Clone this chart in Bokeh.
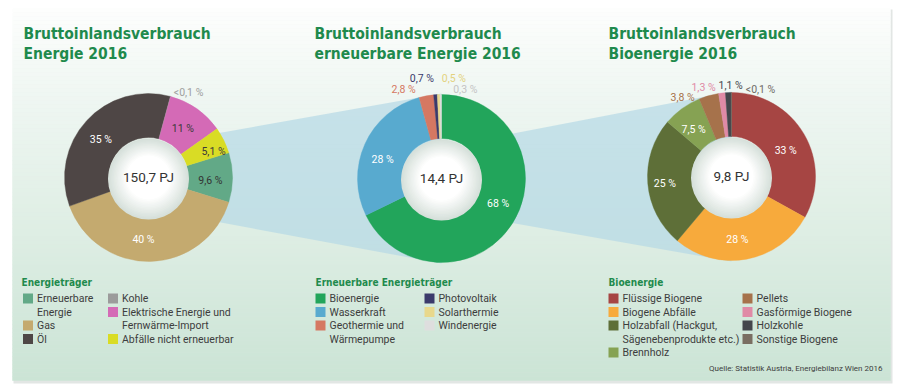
import numpy as np
from bokeh.plotting import figure
from bokeh.models import Range1d, ColumnDataSource
from bokeh.core.properties import value
from bokeh.embed import file_html
from bokeh.resources import INLINE

# ---------------- data ----------------
chart_titles = ["Bruttoinlandsverbrauch\nEnergie 2016",
                "Bruttoinlandsverbrauch\nerneuerbare Energie 2016",
                "Bruttoinlandsverbrauch\nBioenergie 2016"]
totals = ["150,7 PJ", "14,4 PJ", "9,8 PJ"]
legend_titles = ["Energieträger", "Erneuerbare Energieträger", "Bioenergie"]

energy_labels = ["Erneuerbare\nEnergie", "Gas", "Öl", "Kohle",
                 "Elektrische Energie und\nFernwärme-Import", "Abfälle nicht erneuerbar"]
energy_shares = [9.6, 40, 35, 0.05, 11, 5.1]
energy_share_text = ["9,6 %", "40 %", "35 %", "<0,1 %", "11 %", "5,1 %"]

renew_labels = ["Bioenergie", "Wasserkraft", "Geothermie und\nWärmepumpe",
                "Photovoltaik", "Solarthermie", "Windenergie"]
renew_shares = [68, 28, 2.8, 0.7, 0.5, 0.3]
renew_share_text = ["68 %", "28 %", "2,8 %", "0,7 %", "0,5 %", "0,3 %"]

bio_labels = ["Flüssige Biogene", "Biogene Abfälle",
              "Holzabfall (Hackgut,\nSägenebenprodukte etc.)", "Brennholz",
              "Pellets", "Gasförmige Biogene", "Holzkohle", "Sonstige Biogene"]
bio_shares = [33, 28, 25, 7.5, 3.8, 1.3, 1.1, 0.05]
bio_share_text = ["33 %", "28 %", "25 %", "7,5 %", "3,8 %", "1,3 %", "1,1 %", "<0,1 %"]

source_note = "Quelle: Statistik Austria, Energiebilanz Wien 2016"

# ---------------- style ----------------
FONT = "Roboto"
COND_FONT = "DejaVu Sans Condensed"
GREEN_TXT = "#1f8a4d"
DARK_TXT = "#3d3d3d"

energy_colors = ["#62a987", "#c4aa6f", "#4e4645", "#9b9b9b", "#d46ab6", "#d9dc25"]
energy_lab_colors = ["#333333", "#ffffff", "#ffffff", "#a0a0a0", "#3a3a3a", "#3a3a3a"]
energy_lab_r = [62, 62, 61, 94, 60, 70]
energy_lab_da = [-3, -6, 4, -10, 0, -4.5]

renew_colors = ["#22a55b", "#58aacf", "#d57862", "#3b3a6b", "#e8d88c", "#dedede"]
renew_lab_colors = ["#ffffff", "#ffffff", "#d57862", "#3b3a6b", "#e3d27e", "#c4c4c4"]
renew_lab_r = [62, 62, 97, 102, 101, 92]
renew_lab_da = [8, 6, 12.6, 7, -9, -15.5]

bio_colors = ["#a64543", "#f7aa3c", "#5e6f38", "#86a253", "#a6724b", "#e08aa6", "#44464c", "#7a6e62"]
bio_lab_colors = ["#ffffff", "#ffffff", "#ffffff", "#ffffff", "#a6724b", "#e08aa6", "#44464c", "#6f6a66"]
bio_lab_r = [60, 63, 67, 60, 93, 93, 91, 92]
bio_lab_da = [-5, -5, 1, 3, 16, 11, -1.6, -18.5]

R_OUT, R_IN = 84, 40
W, H = 900, 392


def Y(ry):
    return H - np.asarray(ry, float)


p = figure(width=W, height=H, x_range=Range1d(0, W), y_range=Range1d(0, H),
           output_backend="svg", toolbar_location=None, min_border=0)
p.axis.visible = False
p.grid.visible = False
p.outline_line_color = None
p.background_fill_color = "#ffffff"
p.border_fill_color = "#ffffff"

# ---------------- panel background ----------------
PL, PR, PT, PB = 12, 890, 8, 380
p.quad(left=[PL + 1], right=[PR + 2], top=[Y(PT + 1)], bottom=[Y(PB + 3)],
       fill_color="#cfd6d2", fill_alpha=0.6, line_color=None)
stops_y = [PT, 90, 200, 300, PB]
stops_c = [(253, 254, 253), (240, 247, 243), (226, 240, 231), (213, 233, 221), (203, 228, 213)]
n = 93
edges = np.linspace(PT, PB, n + 1)
cols = []
for i in range(n):
    yy = (edges[i] + edges[i + 1]) / 2
    rgb = [int(round(np.interp(yy, stops_y, [c[k] for c in stops_c]))) for k in range(3)]
    cols.append("#%02x%02x%02x" % tuple(rgb))
p.quad(left=PL, right=PR, top=Y(edges[:-1]), bottom=Y(edges[1:]), fill_color=cols,
       line_color=cols, line_width=0.5)

# ---------------- donuts ----------------
centers = [(148, float(Y(177))), (441, float(Y(178))), (731, float(Y(176)))]

# connecting bands
for (cxa, cya), (cxb, cyb) in [(centers[0], centers[1]), (centers[1], centers[2])]:
    p.patch(x=[cxa + 51, cxb, cxb, cxa + 51], y=[cya + 41, cyb + 85, cyb - 85, cya - 41],
            fill_color="#b5d8e6", fill_alpha=0.7, line_color=None)


def add_text(xs, ys, texts, colors, size, bold=False, align="center", baseline="middle", font=FONT):
    src = ColumnDataSource(dict(x=list(xs), y=list(ys), t=list(texts), c=list(colors)))
    p.text(x="x", y="y", text="t", text_color="c", source=src, text_font=value(font),
           text_font_size=size, text_font_style="bold" if bold else "normal",
           text_align=align, text_baseline=baseline)


def donut(center, shares, colors, start_deg, pct_text, lab_colors, lab_r, lab_da, total):
    cx, cy = center
    s = np.array(shares, float)
    cum = np.concatenate([[0], np.cumsum(s / s.sum())])
    a0 = np.radians(start_deg - cum[:-1] * 360)
    a1 = np.radians(start_deg - cum[1:] * 360)
    src = ColumnDataSource(dict(start=a1, end=a0, color=colors))
    p.annular_wedge(x=cx, y=cy, inner_radius=R_IN, outer_radius=R_OUT,
                    start_angle="start", end_angle="end", fill_color="color",
                    line_color="color", line_width=0.4, source=src)
    # hole with soft radial shading
    radii = np.linspace(R_IN + 0.5, 22, 14)
    for k, r in enumerate(radii):
        t = k / (len(radii) - 1)
        c = tuple(int(round(a + (b - a) * t)) for a, b in zip((214, 224, 218), (255, 255, 255)))
        p.circle(x=cx, y=cy - (1 - t) * 1.5, radius=r, fill_color="#%02x%02x%02x" % c, line_color=None)
    mid = (a0 + a1) / 2 + np.radians(lab_da)
    lx = cx + np.array(lab_r) * np.cos(mid)
    ly = cy + np.array(lab_r) * np.sin(mid)
    add_text(lx, ly, pct_text, lab_colors, "10.5px")
    add_text([cx], [cy + 1], [total], ["#333333"], "13.5px")


e_start = 180 * energy_shares[0] / sum(energy_shares)
donut(centers[0], energy_shares, energy_colors, e_start, energy_share_text,
      energy_lab_colors, energy_lab_r, energy_lab_da, totals[0])
donut(centers[1], renew_shares, renew_colors, 90, renew_share_text,
      renew_lab_colors, renew_lab_r, renew_lab_da, totals[1])
donut(centers[2], bio_shares, bio_colors, 90, bio_share_text,
      bio_lab_colors, bio_lab_r, bio_lab_da, totals[2])

# ---------------- titles ----------------
title_x = [23, 314, 608]
for tx, tt in zip(title_x, chart_titles):
    lines = tt.split("\n")
    add_text([tx] * len(lines), [float(Y(33)), float(Y(53))][:len(lines)], lines,
             [GREEN_TXT] * len(lines), "15.5px", bold=True, align="left", font=COND_FONT)

# ---------------- legends ----------------
ROW0, ROWH = 298, 13.5
legend_cols = [((27.5, 112.5), 3), ((320, 429), 3), ((613, 747), 4)]
legend_sets = [(energy_labels, energy_colors), (renew_labels, renew_colors), (bio_labels, bio_colors)]
for (colx, ncol1), (labels, colors), head, hx in zip(legend_cols, legend_sets, legend_titles,
                                                      [21, 315, 608]):
    add_text([hx], [float(Y(282))], [head], [GREEN_TXT], "10px", bold=True, align="left",
             font=COND_FONT)
    sq_x, sq_y, sq_c, tx_x, tx_y, tx_t = [], [], [], [], [], []
    row = 0
    for i, (lab, col) in enumerate(zip(labels, colors)):
        if i == ncol1:
            row = 0
        cxs = colx[0] if i < ncol1 else colx[1]
        sq_x.append(cxs)
        sq_y.append(float(Y(ROW0 + row * ROWH)))
        sq_c.append(col)
        for line in lab.split("\n"):
            tx_x.append(cxs + 9)
            tx_y.append(float(Y(ROW0 + row * ROWH)))
            tx_t.append(line)
            row += 1
    p.rect(x=sq_x, y=sq_y, width=10, height=10, fill_color=sq_c, line_color=None)
    add_text(tx_x, tx_y, tx_t, [DARK_TXT] * len(tx_t), "10.5px", align="left")

add_text([882], [float(Y(368))], [source_note], [DARK_TXT], "8px", align="right")

open("out.html", "w").write(file_html(p, INLINE))
